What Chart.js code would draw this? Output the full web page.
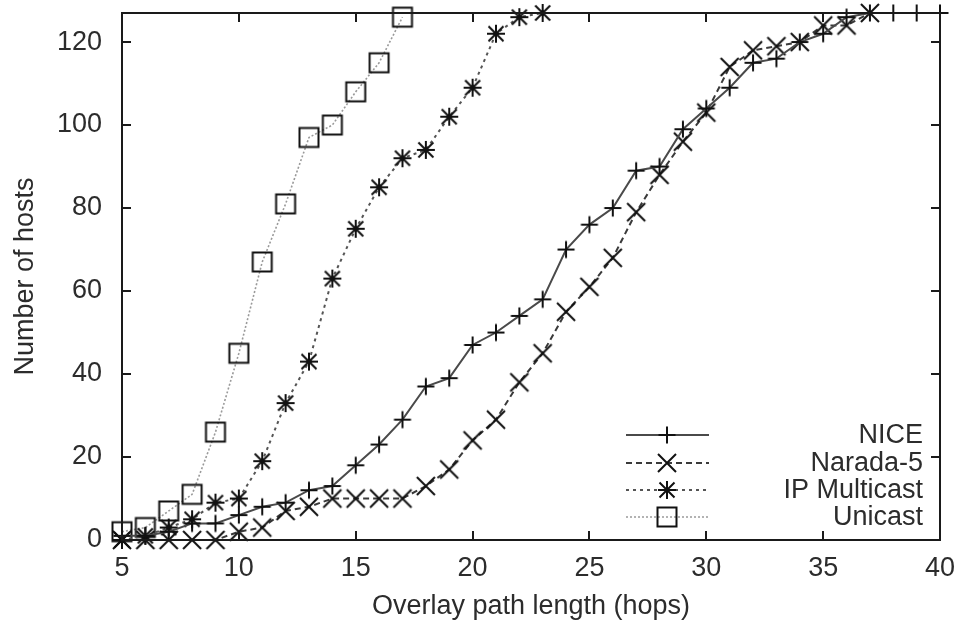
<!DOCTYPE html>
<html>
<head>
<meta charset="utf-8">
<script src="https://cdn.jsdelivr.net/npm/chart.js@4.4.1/dist/chart.umd.min.js"></script>
<style>
  html, body { margin: 0; padding: 0; background: #ffffff; }
  #wrap { width: 958px; height: 625px; position: relative; }
</style>
</head>
<body>
<div id="wrap"><canvas id="c" width="958" height="625"></canvas></div>
<script>
// ---- data ----
const seriesNames = ["NICE", "Narada-5", "IP Multicast", "Unicast"];

const niceHops   = [5,6,7,8,9,10,11,12,13,14,15,16,17,18,19,20,21,22,23,24,25,26,27,28,29,30,31,32,33,34,35,36,37,38,39,40];
const niceHosts  = [1,1,2,4,4,6,8,9,12,13,18,23,29,37,39,47,50,54,58,70,76,80,89,90,99,104,109,115,116,120,122,126,127,127,127,127];

const naradaHops  = [5,6,7,8,9,10,11,12,13,14,15,16,17,18,19,20,21,22,23,24,25,26,27,28,29,30,31,32,33,34,35,36,37,40];
const naradaHosts = [0,0,0,0,0,2,3,7,8,10,10,10,10,13,17,24,29,38,45,55,61,68,79,88,96,103,114,118,119,120,124,124,127,127];

const ipmHops  = [5,6,7,8,9,10,11,12,13,14,15,16,17,18,19,20,21,22,23];
const ipmHosts = [0,1,3,5,9,10,19,33,43,63,75,85,92,94,102,109,122,126,127];

const uniHops  = [5,6,7,8,9,10,11,12,13,14,15,16,17];
const uniHosts = [2,3,7,11,26,45,67,81,97,100,108,115,126];

const xTicks = [5,10,15,20,25,30,35,40];
const yTicks = [0,20,40,60,80,100,120];
const xMin = 5, xMax = 40, yMin = 0, yMax = 127;

const xTitle = "Overlay path length (hops)";
const yTitle = "Number of hosts";

// ---- marker images (gnuplot-like) ----
function marker(type) {
  const s = 26, c = s / 2;
  const cv = document.createElement('canvas');
  cv.width = s; cv.height = s;
  const g = cv.getContext('2d');
  g.strokeStyle = '#111111';
  g.lineWidth = 2;
  g.lineCap = 'butt';
  g.beginPath();
  if (type === 'plus' || type === 'star') {
    const h = type === 'star' ? 9 : 8.5;
    g.moveTo(c - h, c); g.lineTo(c + h, c);
    g.moveTo(c, c - h); g.lineTo(c, c + h);
  }
  if (type === 'x' || type === 'star') {
    const h = type === 'star' ? 7.5 : 9;
    g.moveTo(c - h, c - h); g.lineTo(c + h, c + h);
    g.moveTo(c - h, c + h); g.lineTo(c + h, c - h);
  }
  if (type === 'square') {
    g.rect(c - 9.5, c - 9.5, 19, 19);
  }
  g.stroke();
  return cv;
}

const FONT = '"Liberation Sans", Arial, Helvetica, sans-serif';
const FS = 27;
const TXT = '#2c2c2c';

function pts(xs, ys) { return xs.map((x, i) => ({ x: x, y: ys[i] })); }

const datasets = [
  { label: seriesNames[0], data: pts(niceHops, niceHosts), borderColor: '#4a4a4a', borderWidth: 2, borderDash: [],
    pointStyle: marker('plus'), pointRadius: 6 },
  { label: seriesNames[1], data: pts(naradaHops, naradaHosts), borderColor: '#3a3a3a', borderWidth: 2, borderDash: [6, 4],
    pointStyle: marker('x'), pointRadius: (ctx) => (ctx.raw && ctx.raw.x >= 40 ? 0 : 6) },
  { label: seriesNames[2], data: pts(ipmHops, ipmHosts), borderColor: '#555555', borderWidth: 2, borderDash: [3, 4],
    pointStyle: marker('star'), pointRadius: 6 },
  { label: seriesNames[3], data: pts(uniHops, uniHosts), borderColor: '#9a9a9a', borderWidth: 1.6, borderDash: [2, 2],
    pointStyle: marker('square'), pointRadius: 6 }
].map(d => Object.assign(d, { fill: false, tension: 0, backgroundColor: 'transparent', clip: false, pointHoverRadius: 6 }));

const framePlugin = {
  id: 'frame',
  afterDatasetsDraw(chart) {
    const { ctx, chartArea: a, scales } = chart;
    const x = scales.x, y = scales.y, L = 9;
    ctx.save();
    ctx.strokeStyle = '#1a1a1a';
    ctx.lineWidth = 2;
    ctx.beginPath();
    xTicks.forEach(v => {
      const px = Math.round(x.getPixelForValue(v));
      ctx.moveTo(px, a.bottom); ctx.lineTo(px, a.bottom - L);
      ctx.moveTo(px, a.top); ctx.lineTo(px, a.top + L);
    });
    yTicks.forEach(v => {
      const py = Math.round(y.getPixelForValue(v));
      ctx.moveTo(a.left, py); ctx.lineTo(a.left + L, py);
      ctx.moveTo(a.right, py); ctx.lineTo(a.right - L, py);
    });
    ctx.stroke();
    ctx.strokeRect(a.left, a.top, a.right - a.left, a.bottom - a.top);
    ctx.restore();
  },
  afterDraw(chart) {
    const { ctx } = chart;
    const rows = [435, 463, 490, 517];
    const x0 = 626, x1 = 709, xm = 667, xt = 923;
    ctx.save();
    chart.data.datasets.forEach((d, i) => {
      const yy = rows[i];
      ctx.strokeStyle = d.borderColor;
      ctx.lineWidth = d.borderWidth;
      ctx.setLineDash(d.borderDash || []);
      ctx.beginPath();
      ctx.moveTo(x0, yy); ctx.lineTo(x1, yy);
      ctx.stroke();
      ctx.setLineDash([]);
      const img = d.pointStyle;
      ctx.drawImage(img, xm - img.width / 2, yy - img.height / 2);
      ctx.fillStyle = TXT;
      ctx.font = FS + 'px ' + FONT;
      ctx.textAlign = 'right';
      ctx.textBaseline = 'middle';
      ctx.fillText(d.label, xt, yy + 1);
    });
    ctx.restore();
  }
};

function zeroPad(s) { s.paddingTop = 0; s.paddingBottom = 0; s.paddingLeft = 0; s.paddingRight = 0; }

new Chart(document.getElementById('c'), {
  type: 'line',
  data: { datasets: datasets },
  options: {
    responsive: false,
    animation: false,
    events: [],
    layout: { padding: { left: 0, right: 18, top: 13, bottom: 0 } },
    plugins: { legend: { display: false }, tooltip: { enabled: false } },
    scales: {
      x: {
        type: 'linear', min: xMin, max: xMax,
        grid: { display: false, drawTicks: false },
        border: { display: false },
        afterBuildTicks: (s) => { s.ticks = xTicks.map(v => ({ value: v })); },
        afterFit: (s) => { s.height = 85; zeroPad(s); },
        ticks: { padding: 12, color: TXT, font: { family: FONT, size: FS }, maxRotation: 0, autoSkip: false },
        title: { display: true, text: xTitle, color: TXT, font: { family: FONT, size: FS }, padding: { top: 0, bottom: 2 } }
      },
      y: {
        type: 'linear', min: yMin, max: yMax,
        grid: { display: false, drawTicks: false },
        border: { display: false },
        afterBuildTicks: (s) => { s.ticks = yTicks.map(v => ({ value: v })); },
        afterFit: (s) => { s.width = 122; zeroPad(s); },
        ticks: { padding: 20, color: TXT, font: { family: FONT, size: FS }, autoSkip: false },
        title: { display: true, text: yTitle, color: TXT, font: { family: FONT, size: FS }, padding: { top: 9, bottom: 0 } }
      }
    }
  },
  plugins: [framePlugin]
});
</script>
</body>
</html>
